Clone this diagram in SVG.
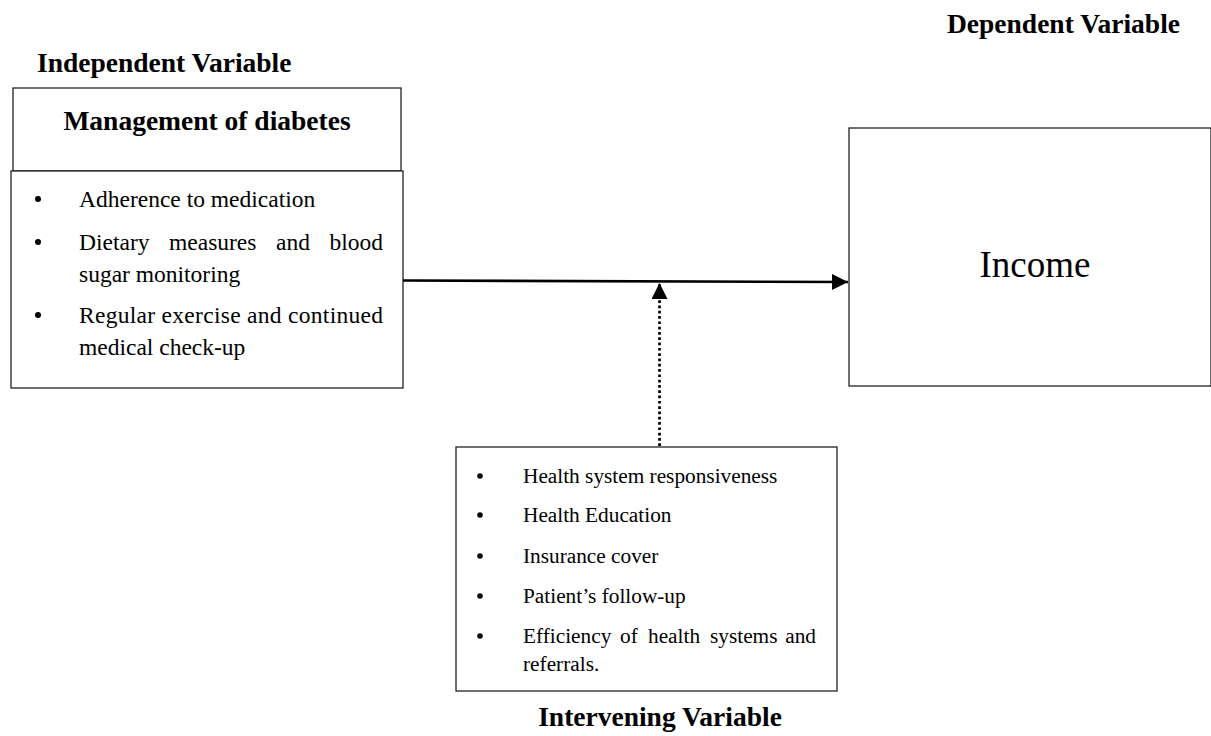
<svg xmlns="http://www.w3.org/2000/svg" width="1211" height="736" viewBox="0 0 1211 736">
<style>
.box{fill:#fff;stroke:#222;stroke-width:1.3}
.lbl{font-family:"Liberation Serif","Times New Roman",serif;font-weight:bold;font-size:27.5px;fill:#000}
.b1{font-family:"Liberation Serif","Times New Roman",serif;font-size:23.5px;fill:#000}
.b2{font-family:"Liberation Serif","Times New Roman",serif;font-size:21.3px;fill:#000}
.dot{fill:#000}
</style>
<defs>
<marker id="ah" viewBox="0 0 16 16" refX="16" refY="8" markerWidth="16" markerHeight="16" markerUnits="userSpaceOnUse" orient="auto">
<path d="M0,0 L16,8 L0,16 Z" fill="#000"/>
</marker>
</defs>
<rect width="1211" height="736" fill="#fff"/>
<text class="lbl" x="37" y="71.5">Independent Variable</text>
<text class="lbl" x="947" y="33">Dependent Variable</text>
<text class="lbl" x="660" y="726" text-anchor="middle">Intervening Variable</text>
<g id="independent">
<rect class="box" x="13" y="88" width="388" height="83"/>
<text class="lbl" x="207" y="130" text-anchor="middle">Management of diabetes</text>
<rect class="box" x="11" y="171" width="392" height="217"/>
<circle class="dot" cx="38" cy="199" r="3"/>
<text class="b1" x="79" y="207">Adherence to medication</text>
<circle class="dot" cx="38" cy="242" r="3"/>
<text class="b1" x="79" y="250">Dietary</text>
<text class="b1" x="169" y="250">measures</text>
<text class="b1" x="276" y="250">and</text>
<text class="b1" x="383" y="250" text-anchor="end">blood</text>
<text class="b1" x="79" y="282">sugar monitoring</text>
<circle class="dot" cx="38" cy="315" r="3"/>
<text class="b1" x="79" y="323" textLength="304" lengthAdjust="spacing">Regular exercise and continued</text>
<text class="b1" x="79" y="355">medical check-up</text>
</g>
<g id="dependent">
<rect class="box" x="849" y="128" width="362" height="258"/>
<text x="1035" y="277" text-anchor="middle" style="font-family:'Liberation Serif','Times New Roman',serif;font-size:37px;fill:#000">Income</text>
</g>
<g id="intervening">
<rect class="box" x="456" y="447" width="381" height="244"/>
<circle class="dot" cx="480" cy="476" r="2.8"/>
<text class="b2" x="523" y="483">Health system responsiveness</text>
<circle class="dot" cx="480" cy="515" r="2.8"/>
<text class="b2" x="523" y="522">Health Education</text>
<circle class="dot" cx="480" cy="556" r="2.8"/>
<text class="b2" x="523" y="563">Insurance cover</text>
<circle class="dot" cx="480" cy="596" r="2.8"/>
<text class="b2" x="523" y="603">Patient’s follow-up</text>
<circle class="dot" cx="480" cy="636" r="2.8"/>
<text class="b2" x="523" y="643">Efficiency</text>
<text class="b2" x="620" y="643">of</text>
<text class="b2" x="648" y="643">health</text>
<text class="b2" x="710" y="643">systems</text>
<text class="b2" x="816" y="643" text-anchor="end">and</text>
<text class="b2" x="523" y="671">referrals.</text>
</g>
<g id="connectors">
<line x1="403" y1="280.5" x2="848" y2="282" stroke="#000" stroke-width="2.6" marker-end="url(#ah)"/>
<line x1="659.5" y1="446" x2="659.5" y2="283" stroke="#000" stroke-width="2.7" stroke-dasharray="2.7 2.6" marker-end="url(#ah)"/>
</g>
</svg>
